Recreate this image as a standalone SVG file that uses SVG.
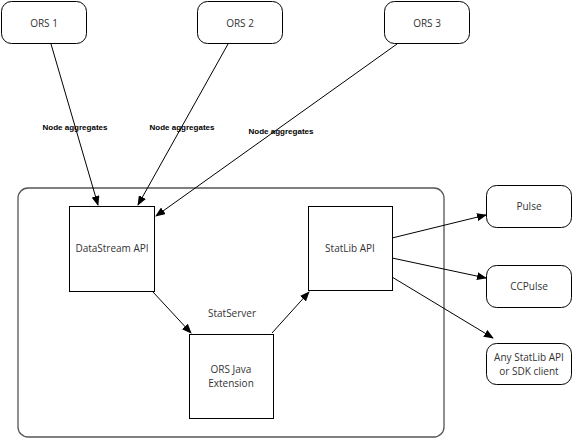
<svg xmlns="http://www.w3.org/2000/svg" width="576" height="440" viewBox="0 0 576 440">
<defs>
<marker id="ah" markerWidth="10" markerHeight="8" refX="9" refY="4" orient="auto" markerUnits="userSpaceOnUse">
<path d="M0,0 L10,4 L0,8 Z" fill="#000"/>
</marker>
<style>
.n{fill:#fff;stroke:#000;stroke-width:1}
.c{fill:#fff;stroke:#555;stroke-width:1.3}
.t{font-family:"Open Sans","Liberation Sans",sans-serif;font-size:10px;fill:#333;text-anchor:middle}
.l{font-family:"Liberation Sans",sans-serif;font-size:8px;font-weight:bold;fill:#000;text-anchor:middle}
.e{stroke:#000;stroke-width:1;fill:none;marker-end:url(#ah)}
</style>
</defs>
<rect width="576" height="440" fill="#fff"/>
<g id="statserver"><rect class="c" x="18" y="188" width="426" height="249" rx="10"/><text class="t" x="232" y="317">StatServer</text></g>
<g id="ors1"><rect class="n" x="1.5" y="1.5" width="85" height="42" rx="10"/><text class="t" x="44" y="27">ORS 1</text></g>
<g id="ors2"><rect class="n" x="197.5" y="1.5" width="85" height="42" rx="10"/><text class="t" x="240" y="27">ORS 2</text></g>
<g id="ors3"><rect class="n" x="384.5" y="1.5" width="85" height="42" rx="10"/><text class="t" x="427" y="27">ORS 3</text></g>
<g id="datastream"><rect class="n" x="69.5" y="206.5" width="85" height="85"/><text class="t" x="112" y="252">DataStream API</text></g>
<g id="orsjava"><rect class="n" x="189.5" y="334.5" width="84" height="84"/><text class="t" x="231" y="373">ORS Java</text><text class="t" x="231" y="387">Extension</text></g>
<g id="statlib"><rect class="n" x="308.5" y="206.5" width="84" height="84"/><text class="t" x="350" y="252">StatLib API</text></g>
<g id="pulse"><rect class="n" x="486.5" y="185.5" width="85" height="42" rx="10"/><text class="t" x="529" y="210">Pulse</text></g>
<g id="ccpulse"><rect class="n" x="486.5" y="265.5" width="85" height="42" rx="10"/><text class="t" x="529" y="290">CCPulse</text></g>
<g id="anyclient"><rect class="n" x="486.5" y="343.5" width="85" height="41" rx="10"/><text class="t" x="529" y="361">Any StatLib API</text><text class="t" x="529" y="375">or SDK client</text></g>
<g id="connectors">
<line class="e" x1="51" y1="44" x2="98" y2="205"/>
<line class="e" x1="228" y1="44" x2="138" y2="205"/>
<line class="e" x1="397" y1="44" x2="156" y2="216"/>
<line class="e" x1="153" y1="292" x2="191" y2="333"/>
<line class="e" x1="272" y1="333" x2="309" y2="292"/>
<line class="e" x1="392" y1="238" x2="486" y2="215"/>
<line class="e" x1="392" y1="258" x2="486" y2="278"/>
<line class="e" x1="392" y1="277" x2="493" y2="338"/>
<text class="l" x="75" y="130">Node aggregates</text>
<text class="l" x="182" y="130">Node aggregates</text>
<text class="l" x="281" y="134">Node aggregates</text>
</g>
</svg>
